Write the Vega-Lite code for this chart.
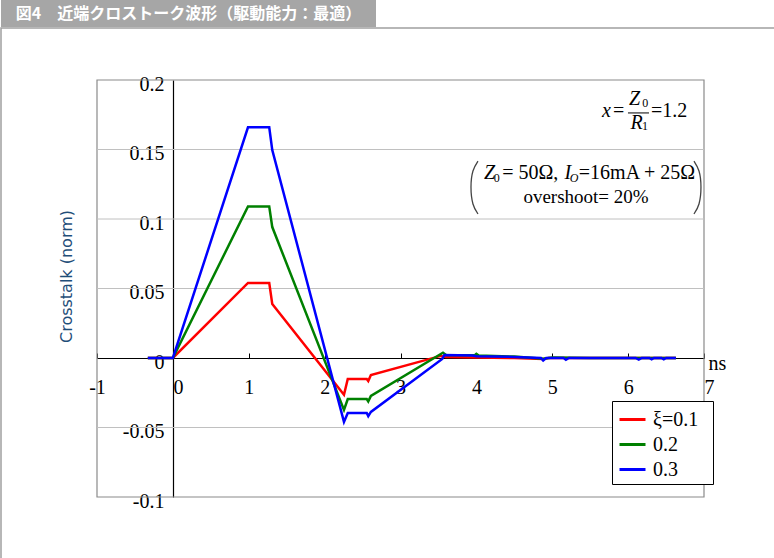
{
  "$schema": "https://vega.github.io/schema/vega-lite/v6.json",
  "padding": 0,
  "spacing": 0,
  "background": "white",
  "config": {"view": {"stroke": null}, "font": "Liberation Serif"},
  "datasets": {
    "series": [
      {"s": "ξ=0.1", "t": -0.33, "v": 0},
      {"s": "ξ=0.1", "t": 0, "v": 0},
      {"s": "ξ=0.1", "t": 0.99, "v": 0.054},
      {"s": "ξ=0.1", "t": 1.27, "v": 0.054},
      {"s": "ξ=0.1", "t": 1.31, "v": 0.0388},
      {"s": "ξ=0.1", "t": 2.255, "v": -0.0264},
      {"s": "ξ=0.1", "t": 2.305, "v": -0.0151},
      {"s": "ξ=0.1", "t": 2.555, "v": -0.0151},
      {"s": "ξ=0.1", "t": 2.575, "v": -0.0166},
      {"s": "ξ=0.1", "t": 2.61, "v": -0.0122},
      {"s": "ξ=0.1", "t": 3.53, "v": 0.0015},
      {"s": "ξ=0.1", "t": 3.6, "v": 0.0008},
      {"s": "ξ=0.1", "t": 4.0, "v": 0.0003},
      {"s": "ξ=0.1", "t": 4.5, "v": 0},
      {"s": "ξ=0.1", "t": 4.88, "v": -0.0008},
      {"s": "ξ=0.1", "t": 4.95, "v": 0},
      {"s": "ξ=0.1", "t": 6.63, "v": 0},
      {"s": "0.2", "t": -0.33, "v": 0},
      {"s": "0.2", "t": 0, "v": 0},
      {"s": "0.2", "t": 0.99, "v": 0.109},
      {"s": "0.2", "t": 1.27, "v": 0.109},
      {"s": "0.2", "t": 1.31, "v": 0.0942},
      {"s": "0.2", "t": 2.255, "v": -0.0374},
      {"s": "0.2", "t": 2.305, "v": -0.0295},
      {"s": "0.2", "t": 2.555, "v": -0.0295},
      {"s": "0.2", "t": 2.575, "v": -0.0312},
      {"s": "0.2", "t": 2.61, "v": -0.0273},
      {"s": "0.2", "t": 3.52, "v": 0.0025},
      {"s": "0.2", "t": 3.56, "v": 0.0038},
      {"s": "0.2", "t": 3.6, "v": 0.0022},
      {"s": "0.2", "t": 3.98, "v": 0.002},
      {"s": "0.2", "t": 4.0, "v": 0.003},
      {"s": "0.2", "t": 4.03, "v": 0.0018},
      {"s": "0.2", "t": 4.5, "v": 0.001},
      {"s": "0.2", "t": 4.88, "v": -0.0005},
      {"s": "0.2", "t": 5.0, "v": 0.0003},
      {"s": "0.2", "t": 5.5, "v": 0},
      {"s": "0.2", "t": 6.63, "v": 0},
      {"s": "0.3", "t": -0.33, "v": 0},
      {"s": "0.3", "t": 0, "v": 0},
      {"s": "0.3", "t": 0.99, "v": 0.166},
      {"s": "0.3", "t": 1.27, "v": 0.166},
      {"s": "0.3", "t": 1.31, "v": 0.1496},
      {"s": "0.3", "t": 2.255, "v": -0.046},
      {"s": "0.3", "t": 2.305, "v": -0.0396},
      {"s": "0.3", "t": 2.555, "v": -0.0396},
      {"s": "0.3", "t": 2.575, "v": -0.0418},
      {"s": "0.3", "t": 2.61, "v": -0.0388},
      {"s": "0.3", "t": 3.55, "v": -0.0007},
      {"s": "0.3", "t": 3.58, "v": 0.0022},
      {"s": "0.3", "t": 3.95, "v": 0.0018},
      {"s": "0.3", "t": 4.0, "v": 0.0012},
      {"s": "0.3", "t": 4.5, "v": 0.0008},
      {"s": "0.3", "t": 4.85, "v": 0},
      {"s": "0.3", "t": 4.88, "v": -0.0018},
      {"s": "0.3", "t": 4.92, "v": 0},
      {"s": "0.3", "t": 5.15, "v": 0},
      {"s": "0.3", "t": 5.18, "v": -0.0012},
      {"s": "0.3", "t": 5.22, "v": 0},
      {"s": "0.3", "t": 6.1, "v": 0},
      {"s": "0.3", "t": 6.14, "v": -0.0012},
      {"s": "0.3", "t": 6.18, "v": 0},
      {"s": "0.3", "t": 6.28, "v": 0},
      {"s": "0.3", "t": 6.31, "v": -0.001},
      {"s": "0.3", "t": 6.34, "v": 0},
      {"s": "0.3", "t": 6.44, "v": 0},
      {"s": "0.3", "t": 6.47, "v": -0.001},
      {"s": "0.3", "t": 6.5, "v": 0},
      {"s": "0.3", "t": 6.63, "v": 0}
    ],
    "grid": [{"g": 0.15}, {"g": 0.1}, {"g": 0.05}, {"g": -0.05}],
    "paren": [
      {"side": "L", "i": 0, "px": 4.021, "py": 0.1417},
      {"side": "L", "i": 1, "px": 3.955, "py": 0.1345},
      {"side": "L", "i": 2, "px": 3.929, "py": 0.123},
      {"side": "L", "i": 3, "px": 3.955, "py": 0.1108},
      {"side": "L", "i": 4, "px": 4.021, "py": 0.1036},
      {"side": "R", "i": 0, "px": 6.868, "py": 0.1417},
      {"side": "R", "i": 1, "px": 6.934, "py": 0.1345},
      {"side": "R", "i": 2, "px": 6.96, "py": 0.123},
      {"side": "R", "i": 3, "px": 6.934, "py": 0.1108},
      {"side": "R", "i": 4, "px": 6.868, "py": 0.1036}
    ]
  },
  "vconcat": [
    {
      "width": 375,
      "height": 27,
      "view": {"fill": "#a6a6a6", "stroke": null},
      "data": {"values": [{"label": "図4　近端クロストーク波形（駆動能力：最適）"}]},
      "mark": {"type": "text", "font": "Noto Sans CJK JP", "fontSize": 16, "fontWeight": "bold", "color": "white", "align": "center", "baseline": "middle"},
      "encoding": {"text": {"field": "label", "type": "nominal"}}
    },
    {
      "width": 774,
      "height": 531,
      "view": {"stroke": "#a0a0a0", "strokeWidth": 1.5},
      "layer": [
        {
          "data": {"values": [{"part": "plot frame"}]},
          "mark": {"type": "rect", "filled": false, "stroke": "#8a8a8a", "strokeWidth": 1.2},
          "encoding": {
            "x": {"datum": -1, "type": "quantitative"},
            "x2": {"datum": 7},
            "y": {"datum": -0.1, "type": "quantitative"},
            "y2": {"datum": 0.2}
          }
        },
        {
          "data": {"name": "grid"},
          "mark": {"type": "rule", "color": "#c0c0c0", "strokeWidth": 1},
          "encoding": {
            "y": {"field": "g", "type": "quantitative"},
            "x": {"datum": -1, "type": "quantitative"},
            "x2": {"datum": 7}
          }
        },
        {
          "data": {"name": "series"},
          "mark": {"type": "line", "strokeWidth": 2.5},
          "encoding": {
            "x": {
              "field": "t", "type": "quantitative",
              "scale": {"domain": [-1, 7], "range": [96, 703], "nice": false, "zero": false},
              "axis": {
                "title": "ns", "orient": "bottom", "offset": -201,
                "values": [-1, 0, 1, 2, 3, 4, 5, 6, 7],
                "domainColor": "black", "domainWidth": 1.2,
                "ticks": true, "tickSize": -5, "tickColor": "black", "tickWidth": 1,
                "grid": false,
                "labelFont": "Liberation Serif", "labelFontSize": 20, "labelColor": "black",
                "labelPadding": 24, "labelFlush": false, "labelOverlap": false,
                "labelAlign": {"condition": {"test": "datum.value === 0 || datum.value === 7", "value": "left"}, "value": "center"},
                "labelExpr": "'' + datum.value",
                "titleFont": "Liberation Serif", "titleFontSize": 20, "titleFontWeight": "normal", "titleColor": "black",
                "titleX": 707, "titleY": 5, "titleAlign": "left", "titleBaseline": "middle", "titleAngle": 0
              }
            },
            "y": {
              "field": "v", "type": "quantitative",
              "scale": {"domain": [-0.1, 0.2], "range": [469, 52], "nice": false, "zero": false},
              "axis": {
                "title": "Crosstalk (norm)", "orient": "left", "offset": -172,
                "values": [-0.1, -0.05, 0, 0.05, 0.1, 0.15, 0.2],
                "domainColor": "black", "domainWidth": 1.2,
                "ticks": false, "grid": false,
                "labelFont": "Liberation Serif", "labelFontSize": 20, "labelColor": "black",
                "labelPadding": 9, "labelOffset": 4, "labelFlush": false, "labelOverlap": false, "labelBaseline": "middle",
                "labelExpr": "'' + datum.value",
                "titleFont": "DejaVu Sans", "titleFontSize": 16, "titleFontWeight": "normal", "titleColor": "#1f4e79",
                "titleX": -107, "titleY": 248, "titleAngle": -90, "titleAlign": "center", "titleBaseline": "middle"
              }
            },
            "color": {
              "field": "s", "type": "nominal",
              "scale": {"domain": ["ξ=0.1", "0.2", "0.3"], "range": ["#ff0000", "#008000", "#0000ff"]},
              "legend": {
                "orient": "none", "legendX": 611, "legendY": 401, "title": null, "direction": "vertical",
                "strokeColor": "black", "fillColor": "white", "padding": 4, "rowPadding": 0,
                "labelFont": "Liberation Serif", "labelFontSize": 20, "labelColor": "black", "labelOffset": 6,
                "symbolType": "stroke", "symbolStrokeWidth": 3, "symbolSize": 676, "symbolOffset": 2, "cornerRadius": 0,
                "labelExpr": "datum.label + '\u2002\u200b'"
              }
            }
          }
        },
        {
          "data": {"name": "paren"},
          "mark": {"type": "line", "interpolate": "natural", "color": "#444444", "strokeWidth": 1.3},
          "encoding": {
            "x": {"field": "px", "type": "quantitative"},
            "y": {"field": "py", "type": "quantitative"},
            "detail": {"field": "side", "type": "nominal"},
            "order": {"field": "i", "type": "quantitative"}
          }
        },
        {
          "data": {"values": [{"part": "fraction bar"}]},
          "mark": {"type": "rule", "color": "black", "strokeWidth": 1},
          "encoding": {
            "x": {"datum": 5.998, "type": "quantitative"},
            "x2": {"datum": 6.275},
            "y": {"datum": 0.1763, "type": "quantitative"}
          }
        },
        {
          "data": {"values": [{"label": "x"}]},
          "mark": {"type": "text", "font": "Liberation Serif", "fontSize": 20, "fontStyle": "italic", "align": "left", "baseline": "alphabetic", "color": "black"},
          "encoding": {"x": {"datum": 5.656, "type": "quantitative"}, "y": {"datum": 0.1734, "type": "quantitative"}, "text": {"field": "label", "type": "nominal"}}
        },
        {
          "data": {"values": [{"label": "="}]},
          "mark": {"type": "text", "font": "Liberation Serif", "fontSize": 20, "align": "left", "baseline": "alphabetic", "color": "black"},
          "encoding": {"x": {"datum": 5.8, "type": "quantitative"}, "y": {"datum": 0.1734, "type": "quantitative"}, "text": {"field": "label", "type": "nominal"}}
        },
        {
          "data": {"values": [{"label": "Z"}]},
          "mark": {"type": "text", "font": "Liberation Serif", "fontSize": 20, "fontStyle": "italic", "align": "left", "baseline": "alphabetic", "color": "black"},
          "encoding": {"x": {"datum": 6.011, "type": "quantitative"}, "y": {"datum": 0.182, "type": "quantitative"}, "text": {"field": "label", "type": "nominal"}}
        },
        {
          "data": {"values": [{"label": "0"}]},
          "mark": {"type": "text", "font": "Liberation Serif", "fontSize": 12, "align": "left", "baseline": "alphabetic", "color": "black"},
          "encoding": {"x": {"datum": 6.185, "type": "quantitative"}, "y": {"datum": 0.1806, "type": "quantitative"}, "text": {"field": "label", "type": "nominal"}}
        },
        {
          "data": {"values": [{"label": "R"}]},
          "mark": {"type": "text", "font": "Liberation Serif", "fontSize": 20, "fontStyle": "italic", "align": "left", "baseline": "alphabetic", "color": "black"},
          "encoding": {"x": {"datum": 6.03, "type": "quantitative"}, "y": {"datum": 0.1647, "type": "quantitative"}, "text": {"field": "label", "type": "nominal"}}
        },
        {
          "data": {"values": [{"label": "1"}]},
          "mark": {"type": "text", "font": "Liberation Serif", "fontSize": 12, "align": "left", "baseline": "alphabetic", "color": "black"},
          "encoding": {"x": {"datum": 6.183, "type": "quantitative"}, "y": {"datum": 0.164, "type": "quantitative"}, "text": {"field": "label", "type": "nominal"}}
        },
        {
          "data": {"values": [{"label": "=1.2"}]},
          "mark": {"type": "text", "font": "Liberation Serif", "fontSize": 20, "align": "left", "baseline": "alphabetic", "color": "black"},
          "encoding": {"x": {"datum": 6.3, "type": "quantitative"}, "y": {"datum": 0.1734, "type": "quantitative"}, "text": {"field": "label", "type": "nominal"}}
        },
        {
          "data": {"values": [{"label": "Z"}]},
          "mark": {"type": "text", "font": "Liberation Serif", "fontSize": 20, "fontStyle": "italic", "align": "left", "baseline": "alphabetic", "color": "black"},
          "encoding": {"x": {"datum": 4.1, "type": "quantitative"}, "y": {"datum": 0.1288, "type": "quantitative"}, "text": {"field": "label", "type": "nominal"}}
        },
        {
          "data": {"values": [{"label": "0"}]},
          "mark": {"type": "text", "font": "Liberation Serif", "fontSize": 12, "align": "left", "baseline": "alphabetic", "color": "black"},
          "encoding": {"x": {"datum": 4.23, "type": "quantitative"}, "y": {"datum": 0.1266, "type": "quantitative"}, "text": {"field": "label", "type": "nominal"}}
        },
        {
          "data": {"values": [{"label": "= 50Ω,"}]},
          "mark": {"type": "text", "font": "Liberation Serif", "fontSize": 20, "align": "left", "baseline": "alphabetic", "color": "black"},
          "encoding": {"x": {"datum": 4.34, "type": "quantitative"}, "y": {"datum": 0.1288, "type": "quantitative"}, "text": {"field": "label", "type": "nominal"}}
        },
        {
          "data": {"values": [{"label": "I"}]},
          "mark": {"type": "text", "font": "Liberation Serif", "fontSize": 20, "fontStyle": "italic", "align": "left", "baseline": "alphabetic", "color": "black"},
          "encoding": {"x": {"datum": 5.16, "type": "quantitative"}, "y": {"datum": 0.1288, "type": "quantitative"}, "text": {"field": "label", "type": "nominal"}}
        },
        {
          "data": {"values": [{"label": "O"}]},
          "mark": {"type": "text", "font": "Liberation Serif", "fontSize": 12, "fontStyle": "italic", "align": "left", "baseline": "alphabetic", "color": "black"},
          "encoding": {"x": {"datum": 5.23, "type": "quantitative"}, "y": {"datum": 0.1266, "type": "quantitative"}, "text": {"field": "label", "type": "nominal"}}
        },
        {
          "data": {"values": [{"label": "=16mA + 25Ω"}]},
          "mark": {"type": "text", "font": "Liberation Serif", "fontSize": 20, "align": "left", "baseline": "alphabetic", "color": "black"},
          "encoding": {"x": {"datum": 5.35, "type": "quantitative"}, "y": {"datum": 0.1288, "type": "quantitative"}, "text": {"field": "label", "type": "nominal"}}
        },
        {
          "data": {"values": [{"label": "overshoot= 20%"}]},
          "mark": {"type": "text", "font": "Liberation Serif", "fontSize": 19, "align": "center", "baseline": "alphabetic", "color": "black"},
          "encoding": {"x": {"datum": 5.445, "type": "quantitative"}, "y": {"datum": 0.1115, "type": "quantitative"}, "text": {"field": "label", "type": "nominal"}}
        }
      ]
    }
  ]
}
